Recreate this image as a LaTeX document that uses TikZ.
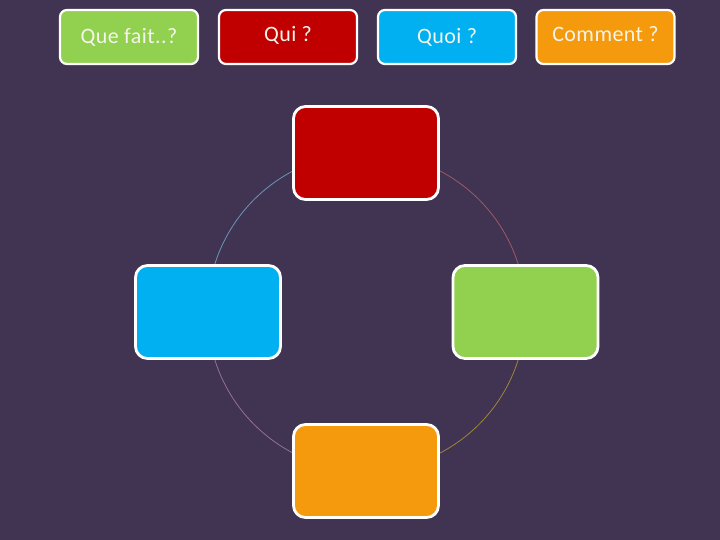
\documentclass[tikz,border=0pt]{standalone}
\usepackage{fontspec}
\setmainfont{Carlito}
\definecolor{bg}{HTML}{413352}
\definecolor{cred}{HTML}{C00000}
\definecolor{cblue}{HTML}{00B0F0}
\definecolor{cgreen}{HTML}{92D050}
\definecolor{corange}{HTML}{F59A0C}
\definecolor{txt}{HTML}{F4F4EC}
\tikzset{
  tab/.style={draw=white, line width=2.2pt, rounded corners=7pt, minimum width=138pt, minimum height=54pt, inner sep=0pt, text height=14.2pt, text depth=0pt, text=txt, font=\fontsize{22}{25}\selectfont\addfontfeatures{LetterSpace=2}},
  bigbox/.style={draw=white, line width=2.8pt, rounded corners=12pt, minimum width=145pt, minimum height=93pt, inner sep=0pt},
  arcline/.style={line width=0.8pt}
}
\begin{document}
\begin{tikzpicture}[x=1pt,y=-1pt]
\fill[bg] (0,0) rectangle (720,540);
\useasboundingbox (0,0) rectangle (720,540);
\coordinate (c) at (366.5,312);
% circle arcs
\draw[arcline, color=cblue!45!bg!70!white] (c) ++(180:159) arc[start angle=180, end angle=270, radius=159];
\draw[arcline, color=cred!55!white!60!bg] (c) ++(270:159) arc[start angle=270, end angle=360, radius=159];
\draw[arcline, color=cgreen!50!orange!70!bg] (c) ++(0:159) arc[start angle=0, end angle=90, radius=159];
\draw[arcline, color=violet!40!white!60!bg] (c) ++(90:159) arc[start angle=90, end angle=180, radius=159];
% top tabs
\node[tab, fill=cgreen] (t1) at (129,37) {\raisebox{0.3pt}{Que fait..?}};
\node[tab, fill=cred] (t2) at (288,37) {\raisebox{2.4pt}{Qui ?}};
\node[tab, fill=cblue] (t3) at (447,37) {\raisebox{0.3pt}{Quoi ?}};
\node[tab, fill=corange] (t4) at (605.5,37) {\raisebox{2.4pt}{Comment ?}};
% cycle boxes
\node[bigbox, fill=cred] (top) at (366,153) {};
\node[bigbox, fill=cblue] (left) at (208,312) {};
\node[bigbox, fill=cgreen] (right) at (525.5,312) {};
\node[bigbox, fill=corange] (bottom) at (366,471) {};
\end{tikzpicture}
\end{document}
